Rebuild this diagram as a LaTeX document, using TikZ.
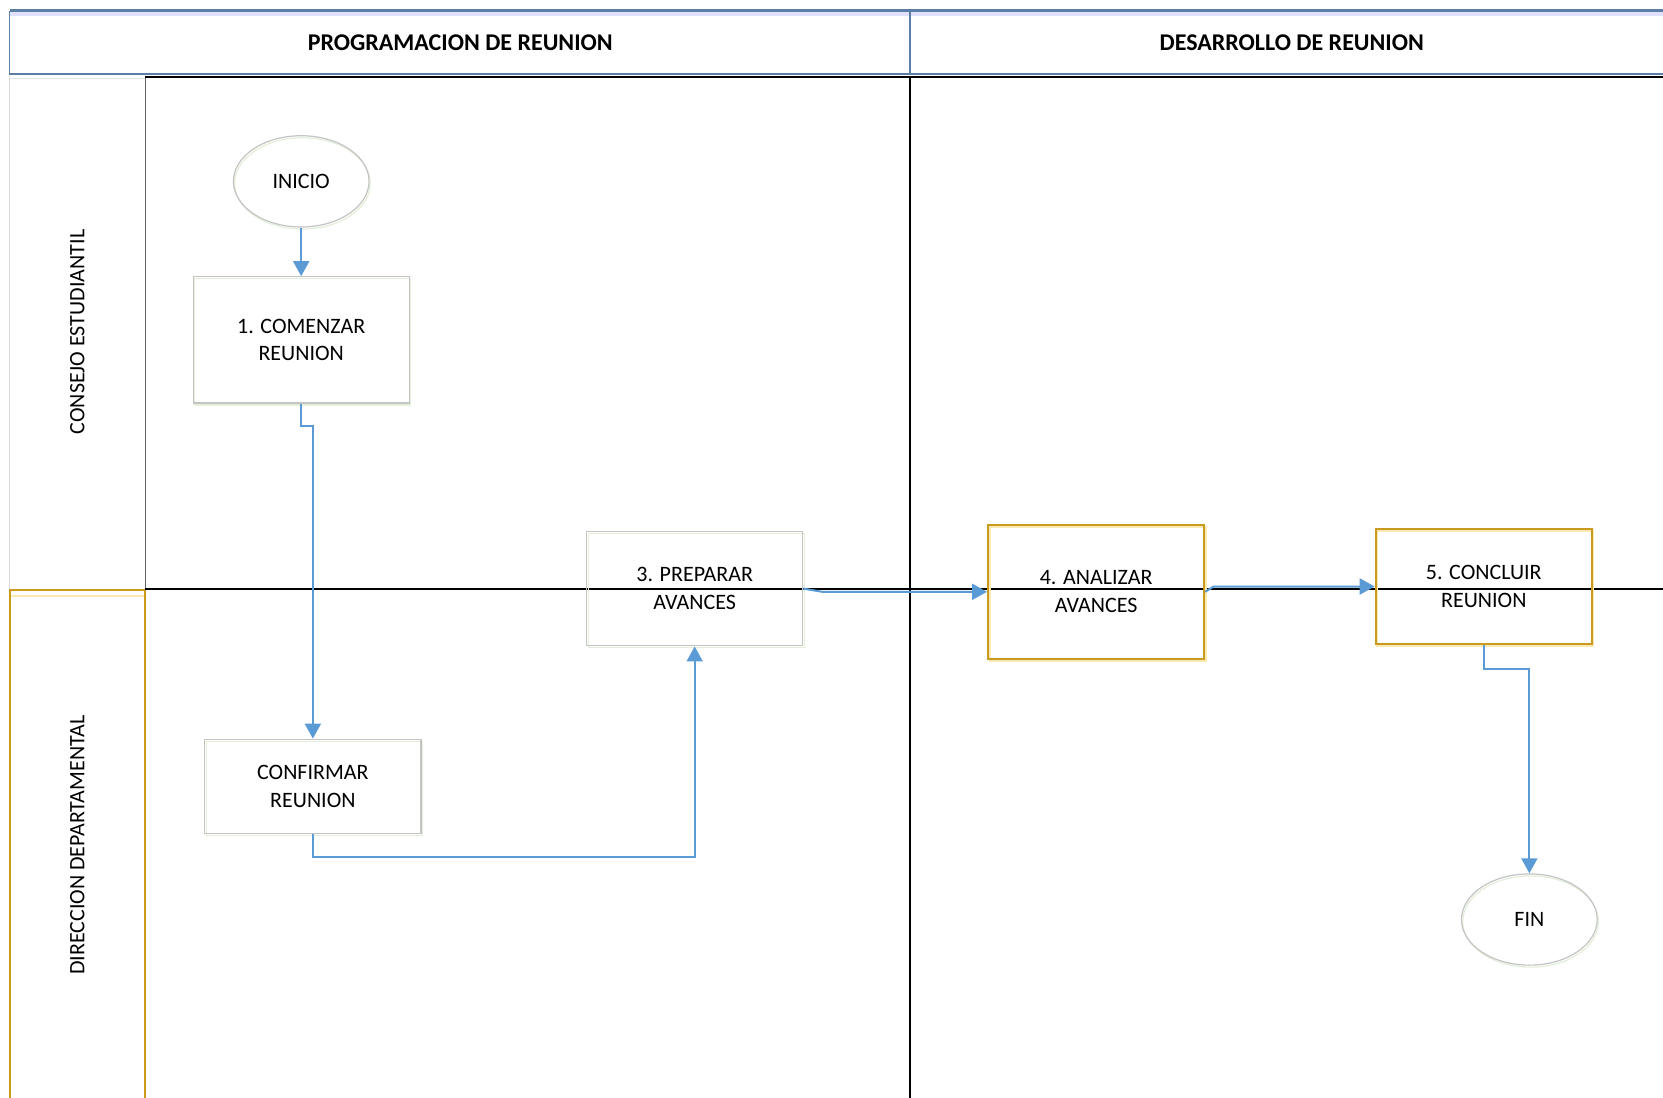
\documentclass[tikz,border=0pt]{standalone}
\usepackage{fontspec}
\setmainfont{Carlito}
\usetikzlibrary{arrows.meta,shapes.geometric,shadows}

\definecolor{flujo}{HTML}{5B9BD5}
\definecolor{cabecera}{HTML}{5A7EA6}
\definecolor{oro}{HTML}{C99A1E}
\definecolor{gris}{HTML}{C4C4C4}
\definecolor{sombra}{HTML}{E4EFD9}
\definecolor{sombraoro}{HTML}{FBE9B3}

\tikzset{
  paso/.style={rectangle, draw=gris, line width=0.6pt, minimum width=108pt,
    align=center, font=\fontsize{11}{13.8}\selectfont,
    copy shadow={shadow xshift=0.8pt, shadow yshift=-1pt, draw=sombra, fill=none}},
  pasooro/.style={paso, draw=oro, line width=1pt,
    copy shadow={shadow xshift=0.8pt, shadow yshift=-1pt, draw=sombraoro, fill=none}},
  terminal/.style={ellipse, draw=gris, line width=0.6pt, minimum width=67.8pt,
    minimum height=45.6pt, font=\fontsize{11}{13.8}\selectfont,
    copy shadow={shadow xshift=0.6pt, shadow yshift=-1pt, draw=sombra, fill=none}},
  flecha/.style={draw=flujo, line width=1pt, -{Triangle[length=7.5pt,width=8pt]}},
  carril/.style={font=\fontsize{11}{13.8}\selectfont, rotate=90},
  titulo/.style={font=\fontsize{12}{14}\selectfont\bfseries}
}

\begin{document}
\begin{tikzpicture}[x=5.3pt,y=5.3pt]
  \useasboundingbox[fill=white] (0,0) rectangle (156.8,-103.5);

  % cabecera de fases
  \draw[blue!12, line width=2pt] (0.9,-1.35) -- (156.8,-1.35);
  \draw[cabecera, line width=1.4pt] (0.9,-1.0) -- (156.8,-1.0);
  \draw[cabecera, line width=0.8pt] (0.9,-1.0) -- (0.9,-7.0) -- (156.8,-7.0);
  \draw[cabecera, line width=0.8pt] (85.8,-1.0) -- (85.8,-7.0);
  \node[titulo] (programacion) at (43.4,-4.0) {PROGRAMACION DE REUNION};
  \node[titulo] (desarrollo) at (121.8,-4.0) {DESARROLLO DE REUNION};

  % carriles
  \draw[black!10, line width=0.8pt] (0.9,-7.4) -- (13.7,-7.4);
  \draw[black!15, line width=0.8pt] (0.9,-7.2) -- (0.9,-55.5);
  \draw[black!60, line width=0.8pt] (13.7,-7.2) -- (13.7,-55.5);
  \draw[sombraoro, line width=0.8pt] (1.0,-56.2) -- (13.6,-56.2);
  \draw[oro, line width=1pt] (0.9,-104) -- (0.9,-55.6) -- (13.7,-55.6) -- (13.7,-104);
  \draw[black, line width=0.9pt] (13.7,-7.25) -- (156.8,-7.25);
  \draw[black, line width=0.9pt] (13.7,-55.5) -- (156.8,-55.5);
  \draw[black, line width=0.9pt] (85.8,-7.25) -- (85.8,-104);
  \node[carril] (consejo) at (7.3,-31.3) {CONSEJO ESTUDIANTIL};
  \node[carril] (direccion) at (7.3,-79.7) {DIRECCION DEPARTAMENTAL};

  % pasos
  \node[terminal] (inicio) at (28.4,-17.1) {INICIO};
  \node[paso, minimum height=63.1pt] (comenzar) at (28.4,-32.05) {1. COMENZAR\\REUNION};
  \node[paso, minimum height=47.2pt] (confirmar) at (29.5,-74.15) {CONFIRMAR\\REUNION};
  \node[paso, minimum height=57.2pt] (preparar) at (65.5,-55.5) {3. PREPARAR\\AVANCES};
  \node[pasooro, minimum height=66.8pt] (analizar) at (103.35,-55.8) {4. ANALIZAR\\AVANCES};
  \node[pasooro, minimum height=57.2pt] (concluir) at (139.9,-55.3) {5. CONCLUIR\\REUNION};
  \node[terminal] (fin) at (144.2,-86.7) {FIN};

  % flujo
  \draw[flecha] (inicio) -- (comenzar);
  \draw[flecha] (comenzar.south) -- ++(0,-2.1) -| (confirmar.north);
  \draw[flecha] (confirmar.south) -- ++(0,-2.1) -| (preparar.south);
  \draw[flecha] (preparar.east) -- ++(1.8,-0.3) -- (analizar.west);
  \draw[flecha] (analizar.east) -- ++(0.8,0.5) -- (concluir.west);
  \draw[flecha] (concluir.south) -- ++(0,-2.3) -| (fin.north);
\end{tikzpicture}
\end{document}
